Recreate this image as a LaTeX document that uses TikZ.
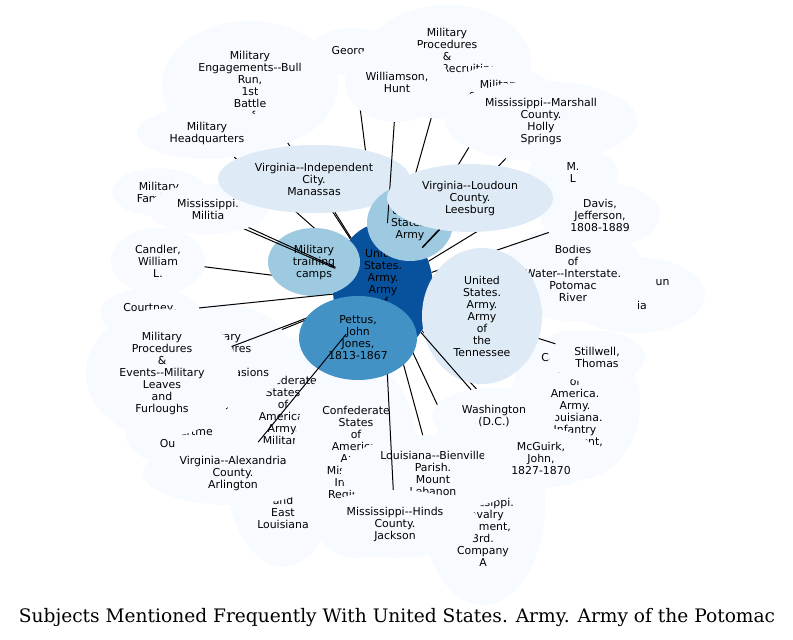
\documentclass[tikz,border=0pt]{standalone}
\usepackage{fontspec}
\usetikzlibrary{shapes.geometric}
\newfontfamily\nf{DejaVu Sans}
\newfontfamily\tf{DejaVu Serif}
\definecolor{cA}{HTML}{08519C}
\definecolor{cB}{HTML}{4292C6}
\definecolor{cC}{HTML}{9ECAE1}
\definecolor{cD}{HTML}{DEEBF7}
\definecolor{cE}{HTML}{F7FBFF}
\begin{document}
\begin{tikzpicture}[x=1bp,y=-1bp,
  nd/.style={ellipse, draw=none, inner sep=0pt, align=center, text=black,
    font={\nf\fontsize{10.9bp}{12bp}\selectfont}},
  ell/.style 2 args={minimum width=2*#1, minimum height=2*#2},
  lt/.style={nd, fill=cE},
  md/.style={nd, fill=cD},
  mb/.style={nd, fill=cC},
  bb/.style={nd, fill=cB},
  db/.style={nd, fill=cA},
  ed/.style={draw=black, line width=1bp},
]
\useasboundingbox[fill=white] (0,0) rectangle (793,640);

\node[db, ell={50bp}{66bp}] (ctr) at (383,289) {United\\States.\\Army.\\Army\\of\\the\\Potomac};

\node[lt, ell={88bp}{64bp}] (eng) at (250,85) {Military\\Engagements--Bull\\Run,\\1st\\Battle\\of};
\draw[ed] (eng) -- (ctr);
\node[lt, ell={42bp}{24bp}] (geo) at (353,52) {Georg\hphantom{ia}};
\draw[ed] (geo) -- (ctr);
\node[lt, ell={70bp}{26bp}] (hq) at (207,133) {Military\\Headquarters};
\draw[ed] (hq) -- (ctr);
\node[lt, ell={84bp}{57bp}] (mpr) at (447,62) {Military\\Procedures\\\&\\Events--Recruiting\\\mbox{}\\\mbox{}};
\draw[ed] (mpr) -- (ctr);
\node[lt, ell={55bp}{30bp}] (ms) at (500,96) {Military\\Substitutes\\\mbox{}};
\draw[ed] (ms) -- (ctr);
\node[lt, ell={45bp}{25bp}] (ml) at (573,173) {M.\\L};
\draw[ed] (ml) -- (ctr);
\node[lt, ell={47bp}{33bp}] (cand) at (158,261) {Candler,\\William\\L.};
\draw[ed] (cand) -- (ctr);
\node[lt, ell={70bp}{38bp}] (un) at (635,295) {\hspace*{55bp}un\\\mbox{}\\\hspace*{14bp}ia};
\draw[ed] (un) -- (ctr);
\node[lt, ell={72bp}{48bp}] (bod) at (573,273) {Bodies\\of\\Water--Interstate.\\Potomac\\River};
\draw[ed] (bod) -- (ctr);
\node[lt, ell={60bp}{33bp}] (dav) at (600,215) {Davis,\\Jefferson,\\1808-1889};
\draw[ed] (dav) -- (ctr);
\node[lt, ell={65bp}{75bp}] (kla) at (575,405) {Confederate\\States\\of\\America.\\Army.\\Louisiana.\\Infantry\\Regiment,\\\mbox{}};
\draw[ed] (kla) -- (ctr);
\node[lt, ell={48bp}{26bp}] (sti) at (597,357) {Stillwell,\\Thomas};
\draw[ed] (sti) -- (ctr);
\node[lt, ell={65bp}{32bp}] (yy) at (191,436) {\mbox{}\\\hphantom{Dep}artme\hphantom{nt}\\Ou\hspace*{47bp}};
\draw[ed] (yy) -- (ctr);
\node[lt, ell={62bp}{103bp}] (cav) at (483,502) {Confederate\\States\\of\\America.\\Army.\\Mississippi.\\Cavalry\\Regiment,\\3rd.\\Company\\A};
\draw[ed] (cav) -- (ctr);
\node[lt, ell={60bp}{115bp}] (aa) at (283,452) {Confederate\\States\\of\\America.\\Army.\\Military\\\mbox{}\\\mbox{}\\\mbox{}\\\mbox{}\\and\\East\\Louisiana};
\draw[ed] (aa) -- (ctr);
\node[lt, ell={70bp}{50bp}] (x2) at (221,354) {Military\\Procedures\\\&\\Events--Invasions};
\draw[ed] (x2) -- (ctr);
\node[lt, ell={62bp}{100bp}] (q) at (356,458) {Confederate\\States\\of\\America.\\Army.\\Mississippi\\Infantry\\Regiment,\\\mbox{}};
\draw[ed] (q) -- (ctr);
\node[lt, ell={92bp}{38bp}] (bien) at (433,473) {Louisiana--Bienville\\Parish.\\Mount\\Lebanon};
\draw[ed] (bien) -- (ctr);
\node[lt, ell={84bp}{34bp}] (hin) at (395,524) {Mississippi--Hinds\\County.\\Jackson};
\draw[ed] (hin) -- (ctr);
\node[lt, ell={57bp}{30bp}] (mcg) at (541,458) {McGuirk,\\John,\\1827-1870};
\draw[ed] (mcg) -- (ctr);
\node[mb, ell={46bp}{34bp}] (tc) at (314,262) {Military\\training\\camps};
\node[lt, ell={47bp}{24bp}] (fam) at (159,192) {Military\\Families};
\draw[ed] (fam) -- (ctr);
\node[lt, ell={60bp}{25bp}] (mil) at (208,209) {Mississippi.\\Militia};
\draw[ed] (mil) -- (ctr);
\node[lt, ell={50bp}{25bp}] (cou) at (150,313) {Courtney,\\\mbox{}};
\draw[ed] (cou) -- (ctr);
\node[lt, ell={76bp}{64bp}] (w) at (162,373) {Military\\Procedures\\\&\\Events--Military\\Leaves\\and\\Furloughs};
\draw[ed] (w) -- (ctr);
\node[md, ell={96bp}{34bp}] (man) at (314,179) {Virginia--Independent\\City.\\Manassas};
\draw[ed] (man) -- (ctr);
\node[mb, ell={43bp}{38bp}] (usa) at (410,223) {United\\States.\\Army};
\node[lt, ell={96bp}{40bp}] (mar) at (541,121) {Mississippi--Marshall\\County.\\Holly\\Springs};
\draw[ed] (mar) -- (ctr);
\node[lt, ell={52bp}{40bp}] (wil) at (397,82) {Williamson,\\Hunt};
\draw[ed] (wil) -- (ctr);
\node[md, ell={83bp}{34bp}] (lou) at (470,198) {Virginia--Loudoun\\County.\\Leesburg};
\draw[ed] (lou) -- (ctr);
\node[bb, ell={59bp}{42bp}] (pet) at (358,338) {Pettus,\\John\\Jones,\\1813-1867};
\node[lt, ell={90bp}{32bp}] (alex) at (233,473) {Virginia--Alexandria\\County.\\Arlington};
\draw[ed] (alex) -- (ctr);
\node[md, ell={60bp}{68bp}] (ten) at (482,316) {United\\States.\\Army.\\Army\\of\\the\\Tennessee};
\node[lt, ell={62bp}{28bp}] (wash) at (494,416) {Washington\\(D.C.)};
\draw[ed] (wash) -- (ctr);

\node[font={\tf\fontsize{18.6bp}{20bp}\selectfont}] (title) at (397,617) {Subjects Mentioned Frequently With United States. Army. Army of the Potomac};
\end{tikzpicture}
\end{document}
